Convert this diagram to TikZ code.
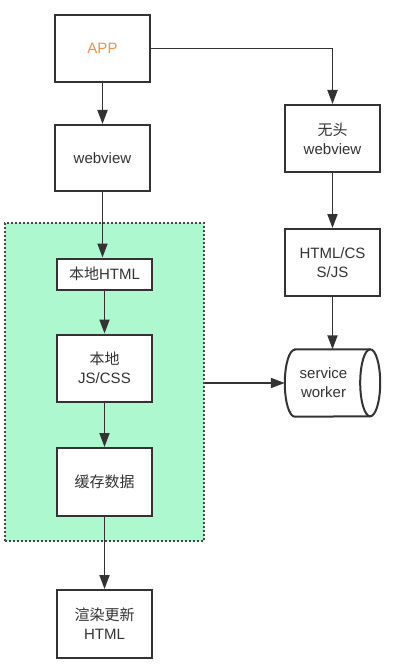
\documentclass[tikz,border=0pt]{standalone}
\usepackage{fontspec}
\setmainfont{Liberation Sans}
\newfontfamily\cjk{Noto Sans CJK SC}
\usetikzlibrary{arrows.meta}
\definecolor{ink}{HTML}{333333}
\definecolor{lbl}{HTML}{333333}
\definecolor{appc}{HTML}{F0914F}
\definecolor{grn}{HTML}{ADF8CE}
\tikzset{
  box/.style={draw=ink, line width=2pt, fill=white, minimum width=95pt, inner sep=0pt, align=center,
    text=lbl, font=\fontsize{15}{19}\selectfont},
  conn/.style={draw=ink, line width=1.8pt, -{Triangle[length=14pt,width=10pt]}},
  grp/.style={draw=ink!90, line width=2pt, dash pattern=on 2pt off 2pt, fill=grn}
}
\begin{document}
\begin{tikzpicture}[x=1pt,y=-1pt]
\useasboundingbox (0,0) rectangle (400,668);
\fill[white] (0,0) rectangle (400,668);
% group
\node[grp, minimum width=199pt, minimum height=318pt, inner sep=0pt] (grp) at (104.5,382) {};
% left column
\node[box, minimum height=67pt] (app) at (102.5,48.5) {\textcolor{appc}{APP}};
\node[box, minimum height=66pt] (wv) at (102.5,158) {webview};
\node[box, minimum height=31pt] (lhtml) at (104.5,274) {\cjk 本地\normalfont HTML};
\node[box, minimum height=67pt] (ljs) at (104.5,368) {\cjk 本地\\JS/CSS};
\node[box, minimum height=68pt] (cache) at (104.5,482) {\cjk 缓存数据};
\node[box, minimum height=68pt] (render) at (104.5,624) {\cjk 渲染更新\\HTML};
% right column
\node[box, minimum height=67pt] (hwv) at (332.5,138.5) {\cjk 无头\\webview};
\node[box, minimum height=67pt] (hcj) at (332.5,262.5) {HTML/CS\\S/JS};
\node[minimum width=95pt, minimum height=67pt, inner sep=0pt] (sw) at (332.5,383) {};
\draw[draw=ink, line width=2pt, fill=white]
  ([xshift=10pt]sw.north west) -- ([xshift=-10pt]sw.north east)
  arc[start angle=90, end angle=-90, x radius=10pt, y radius=33.5pt]
  -- ([xshift=10pt]sw.south west)
  arc[start angle=270, end angle=90, x radius=10pt, y radius=33.5pt] -- cycle;
\draw[draw=ink, line width=2pt]
  ([xshift=-10pt]sw.north east) arc[start angle=90, end angle=270, x radius=10pt, y radius=33.5pt];
\node[inner sep=0pt, align=center, text=lbl, font=\fontsize{15}{19}\selectfont] (swl) at ([xshift=-9pt]sw.center) {service\\worker};
% connectors
\draw[conn] (app) -- (wv);
\draw[conn] (wv.south) -- (wv.south |- lhtml.north);
\draw[conn] (lhtml) -- (ljs);
\draw[conn] (ljs) -- (cache);
\draw[conn] (cache) -- (render);
\draw[conn] (app.east) -| (hwv.north);
\draw[conn] (hwv) -- (hcj);
\draw[conn] (hcj.south) -- (hcj.south |- sw.north);
\draw[conn] (grp.east |- sw.west) -- (sw.west);
\end{tikzpicture}
\end{document}
